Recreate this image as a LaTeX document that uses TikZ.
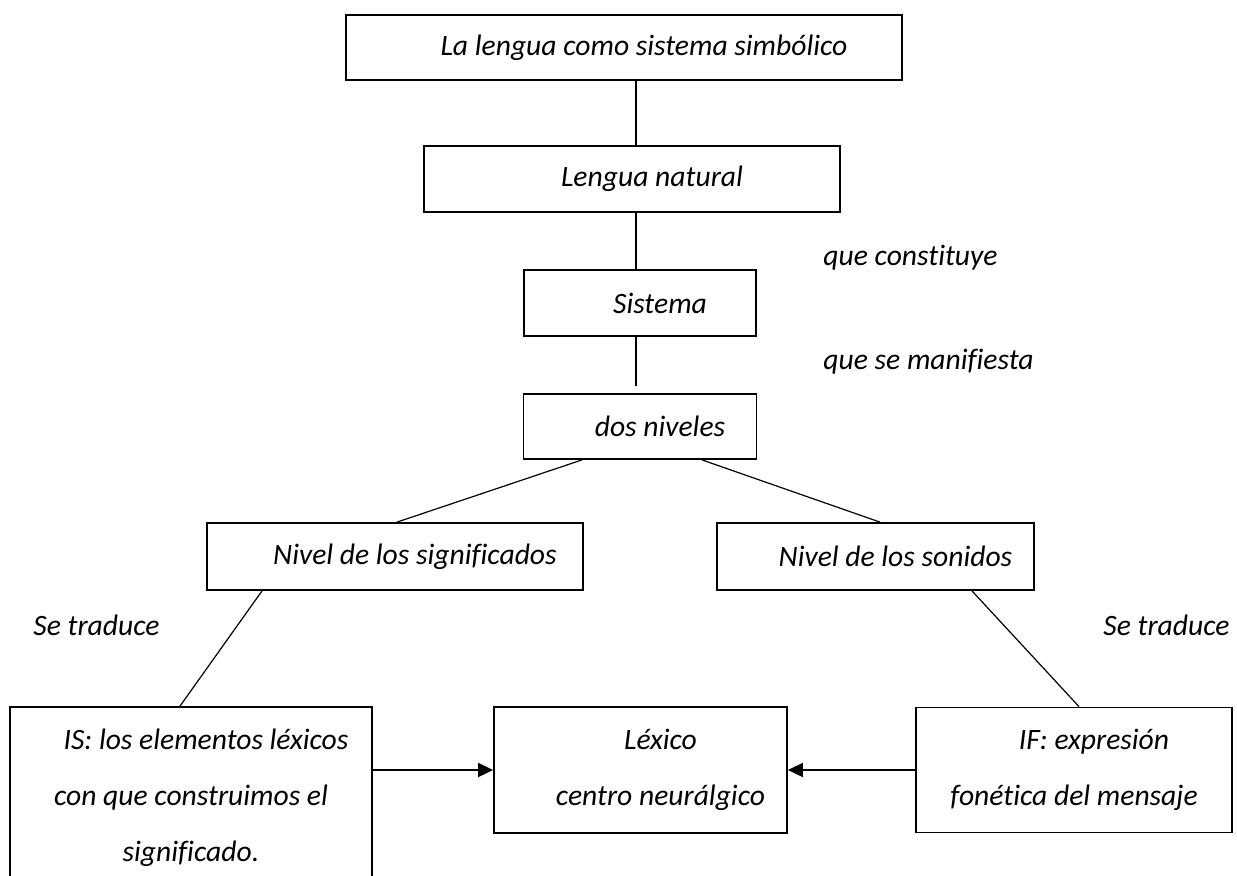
\documentclass[tikz,border=0pt]{standalone}
\usepackage{fontspec}
\setmainfont{Carlito}[Ligatures=NoCommon]
\usetikzlibrary{arrows.meta}

\newcommand{\ind}[1][20pt]{\hspace*{#1}}

\begin{document}
\begin{tikzpicture}[x=0.5pt,y=-0.5pt,
	every node/.style={font=\fontsize{14.8pt}{28pt}\selectfont\itshape,inner sep=0pt},
	caja/.style={draw,line width=0.9pt,align=center},
	linea/.style={line width=0.6pt},
	flecha/.style={line width=0.9pt,-{Triangle[length=7.5pt,width=7pt]}}]
			\useasboundingbox (0,0) rectangle (1237,875);
			\clip (0,0) rectangle (1237,875);
			\node[caja,minimum width=278pt,minimum height=32.5pt] (lengua) at (624,47.5) {\ind La lengua como sistema simbólico};
			\node[caja,minimum width=208pt,minimum height=33pt] (natural) at (632,179) {\ind Lengua natural};
			\node[caja,minimum width=116pt,minimum height=33pt] (sistema) at (640,303) {\ind Sistema};
			\node[caja,minimum width=116.5pt,minimum height=32.5pt] (niveles) at (640,426.5) {\ind dos niveles};
			\node[caja,minimum width=188pt,minimum height=33.5pt] (significados) at (395,556.5) {\ind Nivel de los significados};
			\node[caja,minimum width=158.5pt,minimum height=33.5pt] (sonidos) at (875.5,556.5) {\ind Nivel de los sonidos};
			\node[caja,minimum width=181pt,minimum height=91pt] (is) at (191,798) {\ind[15pt]IS: los elementos léxicos\\con que construimos el\\significado.};
			\node[caja,minimum width=146.5pt,minimum height=63pt] (lexico) at (640.5,770) {\ind Léxico\\\ind centro neurálgico};
			\node[caja,minimum width=158pt,minimum height=62.5pt] (if) at (1074,770) {\ind IF: expresión\\fonética del mensaje};
			\node[anchor=west] (constituye) at (823,258) {que constituye};
			\node[anchor=west] (manifiesta) at (823,362) {que se manifiesta};
			\node[anchor=west] (traduceA) at (33,625) {Se traduce};
			\node[anchor=west] (traduceB) at (1103,625) {Se traduce};
			% tronco central
			\coordinate (eje) at (636,0);
			\draw[linea] (lengua.south -| eje) -- (natural.north -| eje);
			\draw[linea] (natural.south -| eje) -- (sistema.north -| eje);
			\draw[linea,shorten >=3.5pt] (sistema.south -| eje) -- (niveles.north -| eje);
			\draw[linea] ([xshift=-29pt]niveles.south) -- ([xshift=1pt]significados.north);
			\draw[linea] ([xshift=31pt]niveles.south) -- ([xshift=2.25pt]sonidos.north);
			\draw[linea] ([xshift=-66.5pt]significados.south) -- ([xshift=-5.5pt]is.north);
			\draw[linea] ([xshift=48.25pt]sonidos.south) -- ([xshift=2.5pt]if.north);
			\draw[flecha] (lexico.west -| is.east) -- (lexico.west);
			\draw[flecha] (if.west) -- (lexico.east);
			\end{tikzpicture}
\end{document}
